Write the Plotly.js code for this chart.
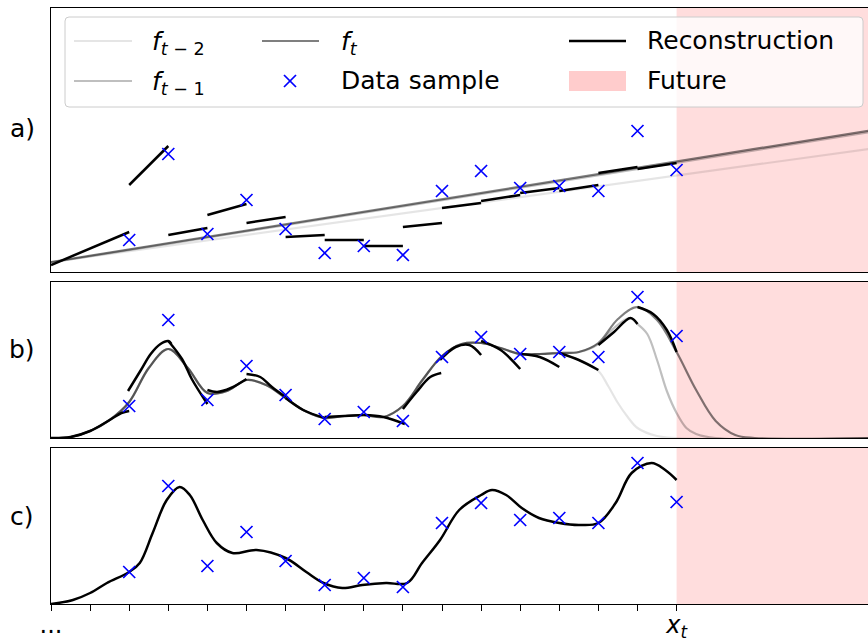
<!DOCTYPE html>
<html><head><meta charset="utf-8">
<script src="https://cdn.plot.ly/plotly-3.0.1.min.js"></script>
<style>html,body{margin:0;padding:0;overflow:hidden;background:#fff}#chart{width:876px;height:644px}</style>
</head><body><div id="chart"></div>
<script>
// ---- data ----
const sampleX = [2,3,4,5,6,7,8,9,10,11,12,13,14,15,16];
const sampleY = [32,118,38,72,43,19,26,17,81,101,84,86,81,141,102];
const tickVals = [0,16];
const tickText = ['...','<i>x</i><sub><i>t</i></sub>'];
const minorTickVals = [0,1,2,3,4,5,6,7,8,9,10,11,12,13,14,15,16];

// panel a: linear models
const aLineX = [0, 21.1];
const aFt2 = [10, 124];
const aFt1 = [9.5, 141];
const aFt  = [10, 142.5];
// panel a: reconstruction segments
const aSegX0 = [0,2,3,4,5,6,7,8,9,10,11,12,13,14,15];
const aSegX1 = [2,3,4,5,6,7,8,9,10,11,12,13,14,15,16];
const aSegY0 = [7,87,37,57,49,35,32,26,45,64,71,79,81,99,103];
const aSegY1 = [40,126,44,68,55,37,32,26,49,69,77,84,87,105,109];

// panel b: models
const bFtX  = [0,0.5,1,1.5,2,2.5,3,3.5,4,4.5,5,5.5,6,6.5,7,7.5,8,8.5,9,9.5,10,10.5,11,11.5,12,12.5,13,13.5,14,14.5,15,15.5,16,16.5,17,17.5,18,21.1];
const bFtY  = [0,1,7,18,36,70,89,70,45,47,58,53,40,27,20,22,23,21,32,58,82,94,95,90,84,84,85,86,95,119,131,118,86,48,17,3,0,0];
const bFt1X = [0,0.5,1,1.5,2,2.5,3,3.5,4,4.5,5,5.5,6,6.5,7,7.5,8,8.5,9,9.5,10,10.5,11,11.5,12,12.5,13,13.5,14,14.4,14.8,15,15.25,15.5,15.75,16,16.25,16.5,17,21.1];
const bFt1Y = [0,1,7,18,36,70,89,70,45,47,58,53,40,27,20,22,23,21,32,58,82,94,95,90,84,84,85,86,94,110,120,114,104,78,47,25,10,4,0,0];
const bFt2X = [0,0.5,1,1.5,2,2.5,3,3.5,4,4.5,5,5.5,6,6.5,7,7.5,8,8.5,9,9.5,10,10.5,11,11.5,12,12.5,13,13.5,14,14.25,14.5,14.75,15,15.5,16,21.1];
const bFt2Y = [0,1,7,18,36,70,89,70,45,47,58,53,40,27,20,22,23,21,32,58,82,94,95,90,84,84,85,78,67,52,35,21,10,2,0,0];
// panel b: reconstruction pieces
const bSegX = [
  [0,0.5,1,1.5,1.8,2],
  [1.97,2.3,2.55,2.8,3.0,3.08],
  [3.0,3.35,3.6,4.0],
  [4,4.25,4.6,5],
  [5,5.35,5.65,6],
  [6,6.45,7],
  [7,7.5,8],
  [8,8.5,9.05],
  [9,9.35,9.7,9.98],
  [9.95,10.35,10.7,11.0],
  [11,11.5,12],
  [12,12.5,13],
  [13,13.5,14],
  [14,14.4,14.82,15],
  [15,15.4,15.75,16]
];
const bSegY = [
  [0,1,7,18,25,27],
  [47,68,84,94,97,94],
  [97,79,59,34],
  [48,46,50,59],
  [64,61,51,41],
  [40,28,20],
  [21,22,23],
  [23,21,14],
  [29,46,61,65],
  [78,91,93,83],
  [97,88,69],
  [84,81,71],
  [85,78,68],
  [93,106,120,114],
  [131,124,108,86]
];

// panel c: full reconstruction
const cX = [0,0.56,1,1.43,2,2.27,2.6,2.96,3.29,3.55,3.88,4.24,4.64,5.26,6,6.53,6.97,7.45,7.96,8.57,9.11,9.49,9.95,10.44,11,11.28,11.64,12.04,12.48,13,13.5,14,14.44,14.85,15.36,15.71,16];
const cY = [0,4,11,21,32,41,71,104,117,109,84,61,51,54,46,32,21,16,19,21,21,41,64,94,109,114,109,96,86,81,79,81,101,131,141,134,124];

// ---- styles ----
const W = 876, H = 644, ML = 51, MT = 8, MB = 40;
const PW = W - ML, PH = H - MT - MB;
const XMAX = 21.1;
const C2 = 'rgba(0,0,0,0.1)', C1 = 'rgba(0,0,0,0.25)', C0 = 'rgba(0,0,0,0.5)';
const FUT = '#ffdddd';
const FONT = 'DejaVu Sans';
const px = v => (v - ML) / PW;
const py = v => (H - MB - v) / PH;

function joinSegs(xs, ys) {
  const X = [], Y = [];
  xs.forEach((a, i) => { X.push(...a, null); Y.push(...ys[i], null); });
  return [X, Y];
}
const aSX = [], aSY = [];
aSegX0.forEach((x0, i) => { aSX.push(x0, aSegX1[i], null); aSY.push(aSegY0[i], aSegY1[i], null); });
const [bSX, bSY] = joinSegs(bSegX, bSegY);

const marker = {symbol:'x-thin', size:12, color:'#0000ff', line:{width:1.7, color:'#0000ff'}};
const traces = [
  // panel a
  {x:aLineX, y:aFt2, xaxis:'x3', yaxis:'y3', mode:'lines', line:{color:C2, width:2.2}, name:'f t-2'},
  {x:aLineX, y:aFt1, xaxis:'x3', yaxis:'y3', mode:'lines', line:{color:C1, width:2.2}, name:'f t-1'},
  {x:aLineX, y:aFt,  xaxis:'x3', yaxis:'y3', mode:'lines', line:{color:C0, width:2.2}, name:'f t'},
  {x:aSX, y:aSY, xaxis:'x3', yaxis:'y3', mode:'lines', line:{color:'#000', width:2.5}, connectgaps:false, name:'Reconstruction'},
  {x:sampleX, y:sampleY, xaxis:'x3', yaxis:'y3', mode:'markers', marker:marker, name:'Data sample'},
  // panel b
  {x:bFt2X, y:bFt2Y, xaxis:'x2', yaxis:'y2', mode:'lines', line:{color:C2, width:2.2, shape:'spline'}},
  {x:bFt1X, y:bFt1Y, xaxis:'x2', yaxis:'y2', mode:'lines', line:{color:C1, width:2.2, shape:'spline'}},
  {x:bFtX,  y:bFtY,  xaxis:'x2', yaxis:'y2', mode:'lines', line:{color:C0, width:2.2, shape:'spline'}},
  {x:bSX, y:bSY, xaxis:'x2', yaxis:'y2', mode:'lines', line:{color:'#000', width:2.5, shape:'spline'}, connectgaps:false},
  {x:sampleX, y:sampleY, xaxis:'x2', yaxis:'y2', mode:'markers', marker:marker},
  // panel c
  {x:cX, y:cY, xaxis:'x', yaxis:'y', mode:'lines', line:{color:'#000', width:2.5, shape:'spline'}},
  {x:sampleX, y:sampleY, xaxis:'x', yaxis:'y', mode:'markers', marker:marker}
];
traces.forEach(t => t.showlegend = false);

const xt = sampleX[sampleX.length - 1];
const axBase = {range:[0, XMAX], showline:true, mirror:true, linecolor:'#000', linewidth:1.2, showgrid:false, zeroline:false, fixedrange:true};
const yBase = {showline:true, mirror:true, linecolor:'#000', linewidth:1.2, showgrid:false, zeroline:false, showticklabels:false, ticks:'', fixedrange:true};

const shapes = [];
[['x','y'],['x2','y2'],['x3','y3']].forEach(([xa, ya]) => {
  shapes.push({type:'rect', xref:xa, yref:ya + ' domain', x0:xt, x1:XMAX, y0:0, y1:1, fillcolor:FUT, line:{width:0}, layer:'below'});
});
// legend box (rounded)
const bx0 = px(65), bx1 = px(863), by0 = py(107), by1 = py(17);
const rx = 4 / PW, ry = 4 / PH;
shapes.push({type:'path', xref:'paper', yref:'paper', layer:'above',
  path:`M${bx0+rx},${by0} L${bx1-rx},${by0} Q${bx1},${by0} ${bx1},${by0+ry} L${bx1},${by1-ry} Q${bx1},${by1} ${bx1-rx},${by1} L${bx0+rx},${by1} Q${bx0},${by1} ${bx0},${by1-ry} L${bx0},${by0+ry} Q${bx0},${by0} ${bx0+rx},${by0} Z`,
  fillcolor:'rgba(255,255,255,0.8)', line:{color:'#cccccc', width:1}});
const legLine = (x0, x1, y, color, w) => ({type:'line', xref:'paper', yref:'paper', layer:'above', x0:px(x0), x1:px(x1), y0:py(y), y1:py(y), line:{color:color, width:w}});
shapes.push(legLine(74, 132, 41, C2, 2.2));
shapes.push(legLine(74, 132, 81, C1, 2.2));
shapes.push(legLine(262, 319, 41, C0, 2.2));
shapes.push(legLine(569, 626, 41, '#000', 2.5));
// legend x marker
shapes.push({type:'line', xref:'paper', yref:'paper', layer:'above', x0:px(284), x1:px(296), y0:py(75), y1:py(87), line:{color:'#0000ff', width:1.7}});
shapes.push({type:'line', xref:'paper', yref:'paper', layer:'above', x0:px(284), x1:px(296), y0:py(87), y1:py(75), line:{color:'#0000ff', width:1.7}});
// legend future patch
shapes.push({type:'rect', xref:'paper', yref:'paper', layer:'above', x0:px(569), x1:px(626), y0:py(91), y1:py(71), fillcolor:'#ffcccc', line:{width:0}});

const legText = (x, y, t) => ({xref:'paper', yref:'paper', x:px(x), y:py(y), text:t, showarrow:false, xanchor:'left', yanchor:'middle', font:{family:FONT, size:25, color:'#000'}});
const annotations = [
  legText(150, 43, '<i>f</i><sub><i>t</i> − 2</sub>'),
  legText(150, 83, '<i>f</i><sub><i>t</i> − 1</sub>'),
  legText(339, 43, '<i>f</i><sub><i>t</i></sub>'),
  legText(339, 81, 'Data sample'),
  legText(645, 40, 'Reconstruction'),
  legText(645, 81, 'Future'),
  {xref:'paper', yref:'paper', x:px(22), y:py(128), text:'a)', showarrow:false, xanchor:'center', yanchor:'middle', font:{family:FONT, size:25, color:'#000'}},
  {xref:'paper', yref:'paper', x:px(22), y:py(349), text:'b)', showarrow:false, xanchor:'center', yanchor:'middle', font:{family:FONT, size:25, color:'#000'}},
  {xref:'paper', yref:'paper', x:px(22), y:py(516), text:'c)', showarrow:false, xanchor:'center', yanchor:'middle', font:{family:FONT, size:25, color:'#000'}}
];

const layout = {
  width:W, height:H, margin:{l:ML, r:0, t:MT, b:MB, pad:0},
  paper_bgcolor:'#fff', plot_bgcolor:'#fff', showlegend:false,
  font:{family:FONT, size:25, color:'#000'},
  xaxis: Object.assign({}, axBase, {anchor:'y', domain:[0,1], ticks:'outside', ticklen:6, tickwidth:1, tickcolor:'#000',
    tickmode:'array', tickvals:tickVals, ticktext:tickText, tickfont:{family:FONT, size:24, color:'#000'}, tickangle:0, ticklabelstandoff:-7,
    minor:{ticks:'outside', ticklen:6, tickwidth:1, tickcolor:'#000', tickmode:'array', tickvals:minorTickVals, showgrid:false}}),
  xaxis2: Object.assign({}, axBase, {anchor:'y2', domain:[0,1], showticklabels:false, ticks:''}),
  xaxis3: Object.assign({}, axBase, {anchor:'y3', domain:[0,1], showticklabels:false, ticks:''}),
  yaxis:  Object.assign({}, yBase, {anchor:'x',  domain:[0, py(448)], range:[0,156]}),
  yaxis2: Object.assign({}, yBase, {anchor:'x2', domain:[py(438), py(282)], range:[0,156]}),
  yaxis3: Object.assign({}, yBase, {anchor:'x3', domain:[py(272), 1], range:[0,264]}),
  shapes:shapes, annotations:annotations
};
Plotly.newPlot('chart', traces, layout, {displayModeBar:false, staticPlot:true});
</script></body></html>
